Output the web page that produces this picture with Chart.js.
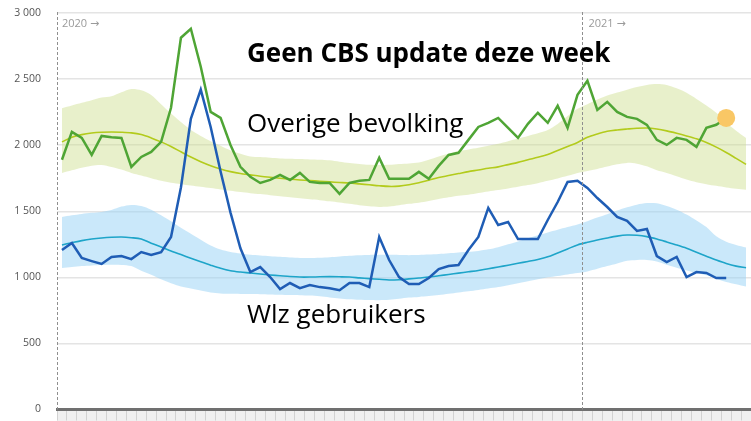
<!DOCTYPE html>
<html>
<head>
<meta charset="utf-8">
<script src="https://cdn.jsdelivr.net/npm/chart.js@4.4.1/dist/chart.umd.min.js"></script>
<style>
  body { margin: 0; background: #fff; }
  #wrap { width: 751px; height: 421px; }
</style>
</head>
<body>
<div id="wrap"><canvas id="sterfte" width="751" height="421"></canvas></div>
<script>
// weken: 53 weken in 2020, daarna 2021
const weeksIn2020 = 53;
const weeksShown2021 = 17;
const weekLabels = [];
for (let w = 1; w <= weeksIn2020; w++) weekLabels.push("2020-" + w);
for (let w = 1; w <= weeksShown2021; w++) weekLabels.push("2021-" + w);

const yTicks = [0, 500, 1000, 1500, 2000, 2500, 3000];

// Overige bevolking (wekelijkse sterfte)
const overigeActual = [
  1890, 2100, 2055, 1926, 2070, 2060, 2055, 1835, 1911, 1949,
  2025, 2283, 2813, 2881, 2593, 2252, 2207, 2002, 1836, 1760,
  1714, 1737, 1775, 1737, 1790, 1722, 1714, 1714, 1631, 1714,
  1730, 1737, 1904, 1745, 1745, 1745, 1798, 1745, 1843, 1926,
  1942, 2040, 2138, 2169, 2206, 2130, 2055, 2161, 2245, 2169,
  2298, 2131, 2381, 2487, 2267, 2328, 2252, 2214, 2199, 2154,
  2040, 2002, 2055, 2040, 1987, 2131, 2154, 2206
];
const overigeVerwacht = [
  2025, 2060, 2080, 2092, 2098, 2100, 2098, 2093, 2080, 2055,
  2025, 1990, 1950, 1910, 1875, 1845, 1820, 1800, 1785, 1775,
  1765, 1757, 1750, 1743, 1737, 1732, 1727, 1722, 1718, 1714,
  1707, 1700, 1693, 1688, 1690, 1700, 1715, 1735, 1755, 1770,
  1785, 1800, 1812, 1825, 1836, 1853, 1870, 1890, 1908, 1930,
  1960, 1990, 2020, 2060, 2085, 2105, 2115, 2122, 2128, 2130,
  2122, 2108, 2090, 2070, 2048, 2020, 1985, 1945, 1900, 1855
];
const overigeBoven = [
  2280, 2300, 2320, 2340, 2360, 2370, 2400, 2425, 2415, 2380,
  2310, 2240, 2175, 2115, 2070, 2030, 1995, 1960, 1935, 1915,
  1910, 1905, 1900, 1898, 1895, 1892, 1890, 1885, 1875, 1865,
  1858, 1852, 1850, 1852, 1858, 1862, 1868, 1890, 1915, 1935,
  1955, 1968, 1980, 1995, 2010, 2030, 2050, 2070, 2090, 2115,
  2160, 2220, 2275, 2310, 2345, 2375, 2398, 2420, 2440, 2455,
  2462, 2455, 2430, 2396, 2350, 2300, 2245, 2170, 2110, 2055
];
const overigeOnder = [
  1790, 1810, 1830, 1845, 1850, 1835, 1815, 1790, 1770, 1750,
  1730, 1715, 1705, 1695, 1685, 1675, 1665, 1655, 1645, 1637,
  1630, 1622, 1614, 1606, 1598, 1590, 1584, 1575, 1566, 1556,
  1546, 1538, 1533, 1535, 1545, 1556, 1565, 1578, 1592, 1605,
  1617, 1625, 1638, 1650, 1660, 1672, 1685, 1698, 1712, 1730,
  1748, 1768, 1790, 1805, 1820, 1838, 1855, 1866, 1860, 1840,
  1810, 1790, 1765, 1740, 1720, 1705, 1692, 1680, 1670, 1662
];

// Wlz gebruikers
const wlzActual = [
  1207, 1260, 1146, 1123, 1101, 1154, 1161, 1138, 1191, 1169,
  1191, 1305, 1680, 2200, 2420, 2138, 1800, 1490, 1220, 1040,
  1078, 1002, 911, 957, 918, 941, 926, 918, 903, 957,
  957, 926, 1305, 1131, 1002, 949, 949, 995, 1063, 1086,
  1093, 1207, 1305, 1525, 1396, 1419, 1290, 1290, 1290, 1434,
  1570, 1722, 1730, 1676, 1600, 1532, 1457, 1427, 1351, 1366,
  1161, 1116, 1154, 1002, 1040, 1033, 995, 995
];
const wlzVerwacht = [
  1245, 1262, 1278, 1290, 1298, 1303, 1305, 1300, 1290, 1258,
  1230, 1200, 1172, 1145, 1118, 1092, 1068, 1050, 1040, 1033,
  1025, 1018, 1012, 1006, 1002, 1002, 1004, 1005, 1004, 1002,
  996, 990, 985, 980, 982, 988, 995, 1002, 1012, 1022,
  1032, 1042, 1052, 1065, 1078, 1092, 1106, 1120, 1135, 1155,
  1185, 1215, 1245, 1265, 1282, 1298, 1312, 1320, 1318, 1308,
  1290, 1268, 1245, 1220, 1190, 1160, 1131, 1105, 1085, 1072
];
const wlzBoven = [
  1457, 1470, 1480, 1488, 1495, 1510, 1535, 1548, 1540, 1512,
  1470, 1425, 1375, 1330, 1285, 1240, 1210, 1192, 1180, 1170,
  1165, 1160, 1155, 1150, 1147, 1146, 1148, 1152, 1158, 1163,
  1167, 1169, 1170, 1170, 1169, 1168, 1169, 1172, 1176, 1182,
  1188, 1193, 1200, 1212, 1228, 1250, 1272, 1295, 1318, 1340,
  1360, 1380, 1400, 1425, 1452, 1478, 1505, 1530, 1550, 1562,
  1560, 1540, 1512, 1475, 1430, 1380, 1310, 1270, 1245, 1225
];
const wlzOnder = [
  1070, 1078, 1085, 1090, 1093, 1095, 1094, 1085, 1050, 1020,
  985, 955, 930, 915, 900, 885, 878, 875, 874, 873,
  872, 870, 868, 866, 865, 862, 856, 848, 840, 834,
  830, 828, 827, 830, 838, 847, 852, 858, 866, 876,
  886, 895, 905, 915, 926, 940, 955, 970, 985, 1000,
  1010, 1022, 1032, 1045, 1065, 1085, 1105, 1125, 1132, 1132,
  1120, 1095, 1072, 1052, 1035, 1015, 990, 965, 948, 930
];

const lastIdx = overigeActual.length - 1;

function formatThousands(v) {
  if (v < 1000) return String(v);
  return Math.floor(v / 1000) + " " + String(v % 1000).padStart(3, "0");
}

function yearLabel(ctx, year, x, y) {
  ctx.font = "11px 'Open Sans'";
  ctx.fillText(year + " ", x, y);
  const w = ctx.measureText(year + " ").width;
  ctx.font = "11px 'DejaVu Sans'";
  ctx.fillText("\u2192", x + w, y);
}

const overlay = {
  id: "overlay",
  beforeDraw(chart) {
    const { ctx, chartArea } = chart;
    ctx.save();
    ctx.fillStyle = "#f0f0f0";
    ctx.fillRect(chartArea.left, chartArea.bottom, chartArea.right - chartArea.left, 12);
    ctx.restore();
  },
  afterDatasetsDraw(chart) {
    const { ctx, chartArea, scales } = chart;
    const x = scales.x;
    const xNewYear = (x.getPixelForValue(weeksIn2020 - 1) + x.getPixelForValue(weeksIn2020)) / 2;
    ctx.save();
    ctx.strokeStyle = "#8f8f8f";
    ctx.lineWidth = 1;
    ctx.setLineDash([3, 2]);
    [chartArea.left + 0.5, Math.round(xNewYear) + 0.5].forEach((px) => {
      ctx.beginPath();
      ctx.moveTo(px, chartArea.top - 1);
      ctx.lineTo(px, chartArea.bottom);
      ctx.stroke();
    });
    ctx.setLineDash([]);

    ctx.fillStyle = "#9a9a9a";
    ctx.textBaseline = "middle";
    yearLabel(ctx, "2020", chartArea.left + 5, 24);
    yearLabel(ctx, "2021", xNewYear + 6, 24);

    ctx.fillStyle = "#000";
    ctx.textBaseline = "alphabetic";
    ctx.font = "bold 26px 'Open Sans'";
    ctx.fillText("Geen CBS update deze week", 247, 62);
    ctx.font = "26px 'Open Sans'";
    ctx.fillText("Overige bevolking", 247, 132);
    ctx.fillText("Wlz gebruikers", 247, 323);
    ctx.restore();
  }
};

const ctx = document.getElementById("sterfte").getContext("2d");
new Chart(ctx, {
  type: "line",
  data: {
    labels: weekLabels,
    datasets: [
      {
        label: "Overige bevolking",
        data: overigeActual,
        borderColor: "#4fa535",
        borderWidth: 2.5,
        pointRadius: (c) => (c.dataIndex === lastIdx ? 9 : 0),
        pointBackgroundColor: "#f9c765",
        pointBorderWidth: 0,
        tension: 0,
        fill: false,
      },
      {
        label: "Wlz gebruikers",
        data: wlzActual,
        borderColor: "#1f5db5",
        borderWidth: 2.5,
        pointRadius: 0,
        tension: 0,
        fill: false,
      },
      {
        label: "Overige verwacht",
        data: overigeVerwacht,
        borderColor: "#b3cb1c",
        borderWidth: 1.6,
        pointRadius: 0,
        tension: 0.3,
        fill: false,
      },
      {
        label: "Wlz verwacht",
        data: wlzVerwacht,
        borderColor: "#1ea5c9",
        borderWidth: 1.6,
        pointRadius: 0,
        tension: 0.3,
        fill: false,
      },
      {
        label: "Overige onder",
        data: overigeOnder,
        borderWidth: 0,
        pointRadius: 0,
        tension: 0.3,
        fill: false,
      },
      {
        label: "Overige boven",
        data: overigeBoven,
        borderWidth: 0,
        pointRadius: 0,
        tension: 0.3,
        backgroundColor: "rgba(205, 222, 140, 0.45)",
        fill: "-1",
      },
      {
        label: "Wlz onder",
        data: wlzOnder,
        borderWidth: 0,
        pointRadius: 0,
        tension: 0.3,
        fill: false,
      },
      {
        label: "Wlz boven",
        data: wlzBoven,
        borderWidth: 0,
        pointRadius: 0,
        tension: 0.3,
        backgroundColor: "rgba(150, 210, 245, 0.5)",
        fill: "-1",
      },
    ],
  },
  options: {
    responsive: false,
    animation: false,
    layout: { autoPadding: false, padding: { top: 13, right: 0, bottom: 0, left: 0 } },
    plugins: {
      legend: { display: false },
      tooltip: { enabled: false },
    },
    scales: {
      x: {
        offset: true,
        afterFit: (scale) => {
          scale.height = 11.5;
        },
        grid: {
          offset: true,
          drawOnChartArea: false,
          drawTicks: true,
          tickLength: 11,
          color: "#d2d2d2",
        },
        border: { display: true, color: "#707070", width: 3 },
        ticks: { display: false, autoSkip: false },
      },
      y: {
        min: 0,
        max: 3000,
        afterBuildTicks: (scale) => {
          scale.ticks = yTicks.map((v) => ({ value: v }));
        },
        afterFit: (scale) => {
          scale.width = 57;
          scale.paddingTop = 0;
          scale.paddingBottom = 0;
        },
        grid: { color: "#e4e4e4", lineWidth: 1.5, drawTicks: false },
        border: { display: false },
        ticks: {
          padding: 16,
          color: "#555",
          font: { family: "'Open Sans'", size: 10.5 },
          callback: (v) => formatThousands(v),
        },
      },
    },
  },
  plugins: [overlay],
});
</script>
</body>
</html>
